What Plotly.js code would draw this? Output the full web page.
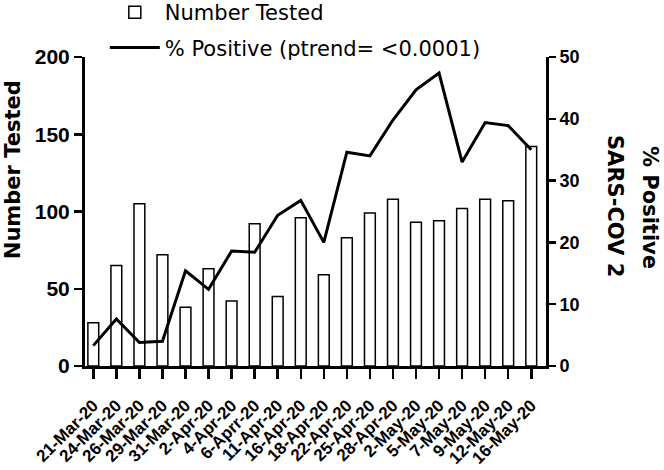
<!DOCTYPE html>
<html>
<head>
<meta charset="utf-8">
<script src="https://cdn.plot.ly/plotly-3.0.1.min.js"></script>
<style>html,body{margin:0;padding:0;background:#fff}#chart{width:664px;height:470px}</style>
</head>
<body>
<div id="chart"></div>
<script>
const dates = ["21-Mar-20","24-Mar-20","26-Mar-20","29-Mar-20","31-Mar-20","2-Apr-20","4-Apr-20","6-Aprr-20","11-Apr-20","16-Apr-20","18-Apr-20","22-Apr-20","25-Apr-20","28-Apr-20","2-May-20","5-May-20","7-May-20","9-May-20","12-May-20","16-May-20"];
const numberTested = [28,65,105,72,38,63,42,92,45,96,59,83,99,108,93,94,102,108,107,142];
const pctPositive = [3.3,7.6,3.8,4.0,15.4,12.4,18.6,18.4,24.4,26.8,20.0,34.6,34.0,39.8,44.7,47.4,33.0,39.4,38.9,35.0];
const leftTicks = [0,50,100,150,200];
const rightTicks = [0,10,20,30,40,50];

const traces = [
  {
    type: "bar", name: "Number Tested", x: dates, y: numberTested,
    width: 0.47, legendgroup: "a",
    marker: {color: "#ffffff", line: {color: "#000000", width: 1.5}},
    yaxis: "y"
  },
  {
    type: "scatter", mode: "lines", name: "% Positive (ptrend= <0.0001)",
    x: dates, y: pctPositive, yaxis: "y2", legendgroup: "b",
    line: {color: "#000000", width: 3}
  }
];

const layout = {
  width: 664, height: 470,
  margin: {l: 85, r: 118, t: 57, b: 104, autoexpand: false},
  paper_bgcolor: "#ffffff", plot_bgcolor: "#ffffff",
  showlegend: true,
  legend: {
    x: 0.043, y: 1.21, xanchor: "left", yanchor: "top",
    font: {family: "DejaVu Sans", size: 21, color: "#000"},
    bgcolor: "rgba(0,0,0,0)", traceorder: "grouped", tracegroupgap: 5,
    itemwidth: 50
  },
  xaxis: {
    type: "category", range: [-0.36, 19.64],
    tickangle: -45, ticks: "outside", ticklen: 10, tickwidth: 2.5, tickcolor: "#000",
    ticklabelstandoff: 10,
    showline: true, linecolor: "#000", linewidth: 3,
    showgrid: false, zeroline: false,
    tickfont: {family: "Liberation Sans", size: 17, color: "#000", weight: "bold"}
  },
  yaxis: {
    range: [0, 200], tickvals: leftTicks, ticktext: leftTicks.map(String),
    ticks: "outside", ticklen: 8, tickwidth: 2.5, tickcolor: "#000",
    showline: true, linecolor: "#000", linewidth: 3,
    showgrid: false, zeroline: false,
    tickfont: {family: "Liberation Sans", size: 21, color: "#000", weight: "bold"}
  },
  yaxis2: {
    overlaying: "y", side: "right",
    range: [0, 50], tickvals: rightTicks, ticktext: rightTicks.map(String),
    ticks: "outside", ticklen: 7, tickwidth: 2.5, tickcolor: "#000",
    showline: true, linecolor: "#000", linewidth: 3,
    showgrid: false, zeroline: false,
    tickfont: {family: "Liberation Sans", size: 18, color: "#000", weight: "bold"}
  },
  annotations: [
    {text: "<b>Number Tested</b>", xref: "paper", yref: "paper",
     x: -0.156, y: 0.634, textangle: -90, showarrow: false,
     xanchor: "center", yanchor: "middle",
     font: {family: "DejaVu Sans", size: 21, color: "#000"}},
    {text: "<b>% Positive</b>", xref: "paper", yref: "paper",
     x: (650 - 85) / 461, y: (366 - 207) / 309, textangle: 90, showarrow: false,
     xanchor: "center", yanchor: "middle",
     font: {family: "DejaVu Sans", size: 21, color: "#000"}},
    {text: "<b>SARS-COV 2</b>", xref: "paper", yref: "paper",
     x: (615 - 85) / 461, y: (366 - 206) / 309, textangle: 90, showarrow: false,
     xanchor: "center", yanchor: "middle",
     font: {family: "DejaVu Sans", size: 21, color: "#000"}}
  ]
};

Plotly.newPlot("chart", traces, layout, {displayModeBar: false, staticPlot: true});
</script>
</body>
</html>
